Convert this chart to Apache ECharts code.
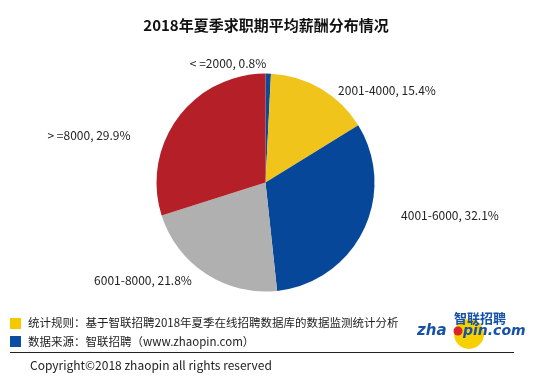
<!DOCTYPE html>
<html>
<head>
<meta charset="utf-8">
<script src="https://cdn.jsdelivr.net/npm/echarts@6/dist/echarts.min.js"></script>
<style>
html,body{margin:0;padding:0;background:#fff;}
#main{width:554px;height:380px;}
</style>
</head>
<body>
<div id="main"></div>
<script>
var categories = ['<=2000', '2001-4000', '4001-6000', '6001-8000', '>=8000'];
var values = [0.8, 15.4, 32.1, 21.8, 29.9];
var labelTexts = ['< =2000, 0.8%', '2001-4000, 15.4%', '4001-6000, 32.1%', '6001-8000, 21.8%', '> =8000, 29.9%'];
var title = '2018年夏季求职期平均薪酬分布情况';
var note1 = '统计规则：基于智联招聘2018年夏季在线招聘数据库的数据监测统计分析';
var note2 = '数据来源：智联招聘（www.zhaopin.com）';
var copyright = 'Copyright©2018 zhaopin all rights reserved';

var colors = ['#0C4A9B', '#F1C41C', '#07479A', '#B0B0B1', '#B51F28'];
var labelPos = [[228, 63], [387, 90], [450, 215], [143, 280], [89, 135]];
var font = '"Noto Sans CJK SC", "Noto Sans", sans-serif';

var chart = echarts.init(document.getElementById('main'), null, {renderer: 'canvas'});
var data = categories.map(function (c, i) {
  return {name: c, value: values[i], itemStyle: {color: colors[i]}};
});

chart.setOption({
  animation: false,
  backgroundColor: '#fff',
  title: {
    text: title, left: 261, top: 13, textAlign: 'center',
    textStyle: {fontSize: 15, fontWeight: 'bold', color: '#111', fontFamily: font}
  },
  series: [{
    type: 'pie',
    center: [265.5, 182.5],
    radius: 109,
    startAngle: 90,
    clockwise: true,
    data: data,
    itemStyle: {borderWidth: 0},
    label: {
      show: true, position: 'outside', fontSize: 12, color: '#222', fontFamily: font,
      formatter: function (p) { return labelTexts[p.dataIndex]; }
    },
    labelLine: {show: false},
    labelLayout: function (p) {
      var pos = labelPos[p.dataIndex];
      return {x: pos[0], y: pos[1], align: 'center', verticalAlign: 'middle'};
    }
  }],
  graphic: [
    {type: 'rect', shape: {x: 10, y: 318, width: 11, height: 11}, style: {fill: '#F5C800'}},
    {type: 'rect', shape: {x: 10, y: 336, width: 11, height: 11}, style: {fill: '#0A4DA2'}},
    {type: 'text', x: 28, y: 323, style: {text: note1, font: '11.5px ' + font, fill: '#222', textVerticalAlign: 'middle'}},
    {type: 'text', x: 28, y: 342, style: {text: note2, font: '11.5px ' + font, fill: '#222', textVerticalAlign: 'middle'}},
    {type: 'line', shape: {x1: 10, y1: 352.5, x2: 514, y2: 352.5}, style: {stroke: '#222', lineWidth: 1}},
    {type: 'text', x: 30, y: 365, style: {text: copyright, font: '12px ' + font, fill: '#222', textVerticalAlign: 'middle'}},
    {type: 'circle', shape: {cx: 469, cy: 334, r: 15}, style: {fill: '#F7D000'}},
    {type: 'text', x: 480, y: 318, style: {text: '智联招聘', font: 'bold 13px ' + font, fill: '#1552A8', textAlign: 'center', textVerticalAlign: 'middle'}},
    {type: 'text', x: 417, y: 331, style: {text: 'zha', font: 'italic bold 15px "DejaVu Sans", sans-serif', fill: '#1552A8', textVerticalAlign: 'middle'}},
    {type: 'circle', shape: {cx: 458, cy: 331, r: 4.5}, style: {fill: '#D8242B'}},
    {type: 'text', x: 463, y: 331, style: {text: 'pin.com', font: 'italic bold 14px "DejaVu Sans", sans-serif', fill: '#1552A8', textVerticalAlign: 'middle'}}
  ]
});
</script>
</body>
</html>
